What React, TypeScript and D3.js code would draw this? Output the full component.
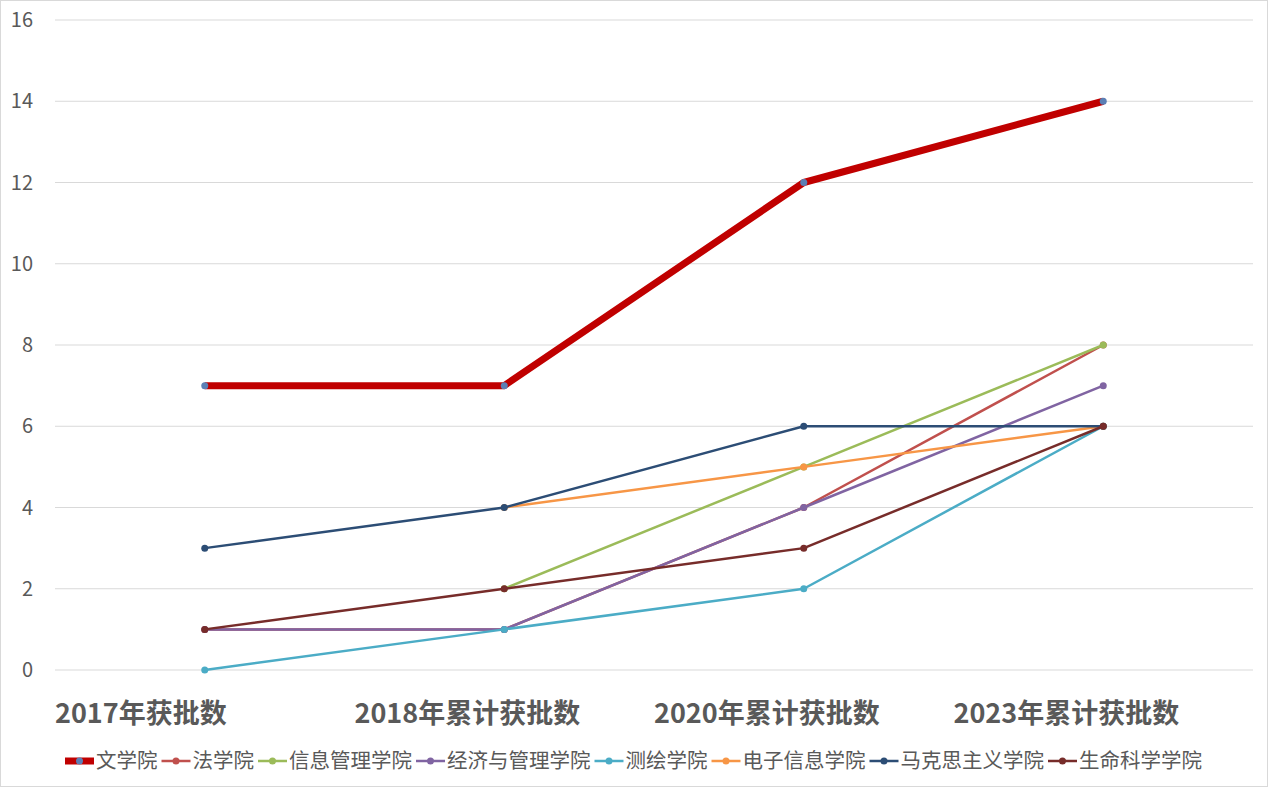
import React from "react";
import * as d3 from "d3";

const categories = ["2017年获批数", "2018年累计获批数", "2020年累计获批数", "2023年累计获批数"];
const seriesNames = ["文学院", "法学院", "信息管理学院", "经济与管理学院", "测绘学院", "电子信息学院", "马克思主义学院", "生命科学学院"];
const wenxue = [7, 7, 12, 14];
const faxue = [1, 1, 4, 8];
const xinxi = [null, 2, 5, 8];
const jingji = [1, 1, 4, 7];
const cehui = [0, 1, 2, 6];
const dianzi = [null, 4, 5, 6];
const makesi = [3, 4, 6, 6];
const shengming = [1, 2, 3, 6];
const seriesValues: (number | null)[][] = [wenxue, faxue, xinxi, jingji, cehui, dianzi, makesi, shengming];
const lineColors = ["#c00000", "#c0504d", "#9bbb59", "#8064a2", "#4bacc6", "#f79646", "#2c4d75", "#772c2a"];
const markerColors = ["#5b7fb5", "#c0504d", "#9bbb59", "#8064a2", "#4bacc6", "#f79646", "#2c4d75", "#772c2a"];
const yTicks = [0, 2, 4, 6, 8, 10, 12, 14, 16];

const W = 1268, H = 787;
const FONT = "'Noto Sans CJK SC', 'Noto Sans', sans-serif";
const LEGEND_FS = 20.5;

export default function App() {
  const x = d3.scaleBand<string>().domain(categories).range([55, 1253]).paddingInner(0).paddingOuter(0);
  const y = d3.scaleLinear().domain([0, 16]).range([670, 20]);
  const cx = (c: string) => (x(c) as number) + x.bandwidth() / 2;
  const line = d3
    .line<{ c: string; v: number | null }>()
    .defined((d) => d.v !== null)
    .x((d) => cx(d.c))
    .y((d) => y(d.v as number));

  // legend layout
  const legendItems: { name: string; sx: number; tx: number; i: number }[] = [];
  let lx = 65;
  seriesNames.forEach((name, i) => {
    const sx = lx;
    const tx = sx + 31;
    legendItems.push({ name, sx, tx, i });
    lx = tx + name.length * LEGEND_FS + 4;
  });

  return (
    <svg width={W} height={H} style={{ position: "absolute", left: 0, top: 0, background: "#fff" }} fontFamily={FONT}>
      <rect x={0.5} y={0.5} width={W - 1} height={H - 1} fill="#fff" stroke="#d9d9d9" />
      {yTicks.map((t) => (
        <g key={t}>
          <line x1={55} x2={1253} y1={y(t)} y2={y(t)} stroke="#d9d9d9" strokeWidth={1} />
          <text x={33} y={y(t)} dy="0.35em" textAnchor="end" fontSize={20} fill="#595959">
            {t}
          </text>
        </g>
      ))}
      {categories.map((c) => (
        <text key={c} x={x(c) as number} y={723} fontSize={27} fontWeight="bold" fill="#595959">
          {c}
        </text>
      ))}
      {seriesValues.map((vals, i) => {
        const data = categories.map((c, j) => ({ c, v: vals[j] }));
        return (
          <g key={i}>
            <path
              d={line(data) || ""}
              fill="none"
              stroke={lineColors[i]}
              strokeWidth={i === 0 ? 7 : 2.5}
              strokeLinejoin="round"
            />
            {data
              .filter((d) => d.v !== null)
              .map((d, j) => (
                <circle key={j} cx={cx(d.c)} cy={y(d.v as number)} r={3.5} fill={markerColors[i]} />
              ))}
          </g>
        );
      })}
      {legendItems.map((it) => (
        <g key={it.name}>
          <line
            x1={it.sx}
            x2={it.sx + 29}
            y1={761}
            y2={761}
            stroke={lineColors[it.i]}
            strokeWidth={it.i === 0 ? 7 : 2.5}
          />
          <circle cx={it.sx + 14.5} cy={761} r={3.5} fill={markerColors[it.i]} />
          <text x={it.tx} y={761} dy="0.35em" fontSize={LEGEND_FS} fill="#595959">
            {it.name}
          </text>
        </g>
      ))}
    </svg>
  );
}
